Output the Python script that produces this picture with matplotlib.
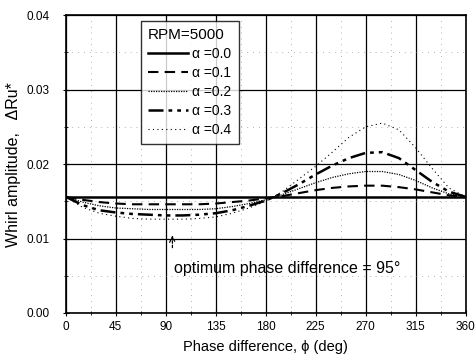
import matplotlib
matplotlib.use("Agg")
import matplotlib.pyplot as plt
from matplotlib.ticker import MultipleLocator, FormatStrFormatter

plt.rcParams["font.family"] = ["Liberation Sans", "DejaVu Sans"]

# phase difference (deg)
phi = [0, 15, 30, 45, 60, 75, 90, 105, 120, 135, 150, 165, 180,
       195, 210, 225, 240, 255, 270, 285, 300, 315, 330, 345, 360]

# whirl amplitude for each alpha
amp_00 = [0.0156] * len(phi)
amp_01 = [0.0156, 0.0152, 0.0149, 0.0147, 0.0146, 0.0146, 0.0146, 0.0146, 0.0146, 0.0147, 0.0149, 0.0151, 0.0154,
          0.0157, 0.0161, 0.0165, 0.0168, 0.0170, 0.0171, 0.0171, 0.0169, 0.0166, 0.0162, 0.0158, 0.0156]
amp_02 = [0.0156, 0.0149, 0.0144, 0.0141, 0.0140, 0.0139, 0.0139, 0.0139, 0.0139, 0.0140, 0.0143, 0.0147, 0.0152,
          0.0159, 0.0167, 0.0175, 0.0182, 0.0187, 0.0190, 0.0190, 0.0186, 0.0178, 0.0168, 0.0160, 0.0156]
amp_03 = [0.0156, 0.0145, 0.0138, 0.0135, 0.0133, 0.0132, 0.0131, 0.0131, 0.0132, 0.0134, 0.0138, 0.0144, 0.0151,
          0.0161, 0.0173, 0.0186, 0.0198, 0.0208, 0.0215, 0.0216, 0.0208, 0.0192, 0.0176, 0.0163, 0.0156]
amp_04 = [0.0156, 0.0142, 0.0134, 0.0130, 0.0127, 0.0126, 0.0126, 0.0126, 0.0127, 0.0129, 0.0134, 0.0141, 0.0150,
          0.0163, 0.0180, 0.0197, 0.0216, 0.0236, 0.0250, 0.0255, 0.0246, 0.0222, 0.0194, 0.0168, 0.0156]

series = [amp_00, amp_01, amp_02, amp_03, amp_04]
labels = ["α =0.0", "α =0.1", "α =0.2", "α =0.3", "α =0.4"]
styles = ["-", (0, (5, 3)), (0, (1, 1)), (0, (6, 2, 1.5, 2, 1.5, 2)), (0, (1, 3))]
widths = [1.8, 1.5, 0.9, 1.8, 0.8]

fig = plt.figure(figsize=(4.77, 3.61), dpi=100)
ax = fig.add_axes([0.138, 0.133, 0.838, 0.825])

for y, lab, ls, lw in zip(series, labels, styles, widths):
    ax.plot(phi, y, color="black", linestyle=ls, linewidth=lw, label=lab)

ax.set_xlim(0, 360)
ax.set_ylim(0, 0.04)
ax.xaxis.set_major_locator(MultipleLocator(45))
ax.xaxis.set_minor_locator(MultipleLocator(22.5))
ax.yaxis.set_major_locator(MultipleLocator(0.01))
ax.yaxis.set_minor_locator(MultipleLocator(0.005))
ax.yaxis.set_major_formatter(FormatStrFormatter("%.2f"))
ax.grid(which="major", color="black", linewidth=0.9)
ax.grid(which="minor", color="0.6", linewidth=0.6, linestyle=(0, (1, 6)))
ax.tick_params(which="both", direction="inout", labelsize=8.5, color="black")
ax.tick_params(which="major", length=5)
ax.tick_params(which="minor", length=3)
ax.tick_params(axis="y", pad=9)
for s in ax.spines.values():
    s.set_linewidth(1.2)

ax.set_xlabel("Phase difference, ϕ (deg)", fontsize=10.5, labelpad=5)
ax.set_ylabel("Whirl amplitude,   ΔRu*", fontsize=11.5, labelpad=4)

ax.annotate("", xy=(96, 0.0108), xytext=(96, 0.0084),
            arrowprops=dict(arrowstyle="->", color="black", linestyle=(0, (2, 1.5)), linewidth=0.9))
ax.text(97, 0.0060, "optimum phase difference = 95°", fontsize=11.5, va="center")

leg = ax.legend(title="RPM=5000", loc="upper left", bbox_to_anchor=(0.188, 0.98),
                borderaxespad=0, fontsize=10, title_fontsize=11, frameon=True, fancybox=False,
                handlelength=2.9, handletextpad=0.3, labelspacing=0.36, borderpad=0.5)
leg._legend_box.align = "left"
leg.get_frame().set_edgecolor("black")
leg.get_frame().set_linewidth(1.0)

fig.savefig("out.png", dpi=100)
